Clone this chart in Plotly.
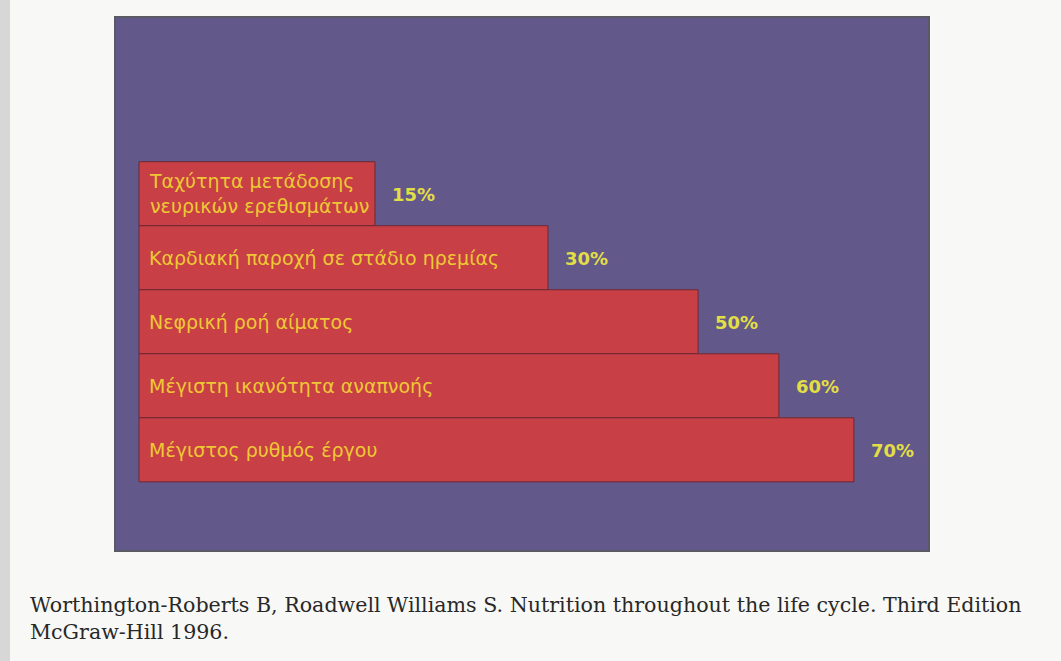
import plotly.graph_objects as go

# Data (top to bottom as displayed)
categories = [
    "Ταχύτητα μετάδοσης<br>νευρικών ερεθισμάτων",
    "Καρδιακή παροχή σε στάδιο ηρεμίας",
    "Νεφρική ροή αίματος",
    "Μέγιστη ικανότητα αναπνοής",
    "Μέγιστος ρυθμός έργου",
]
percent_labels = ["15%", "30%", "50%", "60%", "70%"]
# drawn bar length (relative, longest bar = 100)
bar_length = [33.0, 57.2, 78.2, 89.5, 100.0]

caption_lines = [
    "Worthington-Roberts B, Roadwell Williams S. Nutrition throughout the life cycle. Third Edition",
    "McGraw-Hill 1996.",
]

n = len(categories)
ypos = list(range(n - 1, -1, -1))  # top item highest

BAR = "rgb(200,64,70)"
PANEL = "rgb(99,88,138)"
YEL = "rgb(238,200,52)"
PCT = "rgb(226,222,70)"

fig = go.Figure()
fig.add_trace(go.Bar(
    x=bar_length, y=ypos, orientation="h", width=1.0,
    marker=dict(color=BAR, line=dict(color="rgb(110,40,50)", width=1)),
    hoverinfo="skip", showlegend=False,
))

for yv, lab, pct, L in zip(ypos, categories, percent_labels, bar_length):
    fig.add_annotation(x=0, y=yv, xref="x", yref="y", text=lab, showarrow=False,
                       xanchor="left", xshift=8, align="left",
                       font=dict(family="DejaVu Sans", size=19, color=YEL))
    fig.add_annotation(x=L, y=yv, xref="x", yref="y", text="<b>" + pct + "</b>", showarrow=False,
                       xanchor="left", xshift=15, yshift=-1,
                       font=dict(family="DejaVu Sans", size=18, color=PCT))

fig.add_annotation(xref="paper", yref="paper", x=-87/814, y=0, yshift=-40,
                   xanchor="left", yanchor="top", align="left", showarrow=False,
                   text="<br>".join(caption_lines),
                   font=dict(family="DejaVu Serif", size=20.6, color="rgb(40,40,40)"))

fig.update_layout(
    width=1061, height=661,
    margin=dict(l=115, r=132, t=17, b=110),
    paper_bgcolor="rgb(248,248,246)",
    plot_bgcolor=PANEL,
    xaxis=dict(range=[-3.36, 110.5], visible=False, fixedrange=True),
    yaxis=dict(range=[-1.58, 6.76], visible=False, fixedrange=True),
    shapes=[
        dict(type="rect", xref="paper", yref="paper", x0=0, x1=1, y0=0, y1=1,
             line=dict(color="rgb(90,90,100)", width=2), layer="above"),
        dict(type="rect", xref="paper", yref="paper", x0=-115/814, x1=-105/814, y0=-110/534, y1=(534+17)/534,
             fillcolor="rgb(215,215,215)", line=dict(width=0), layer="below"),
    ],
)

fig.write_html("out.html")
